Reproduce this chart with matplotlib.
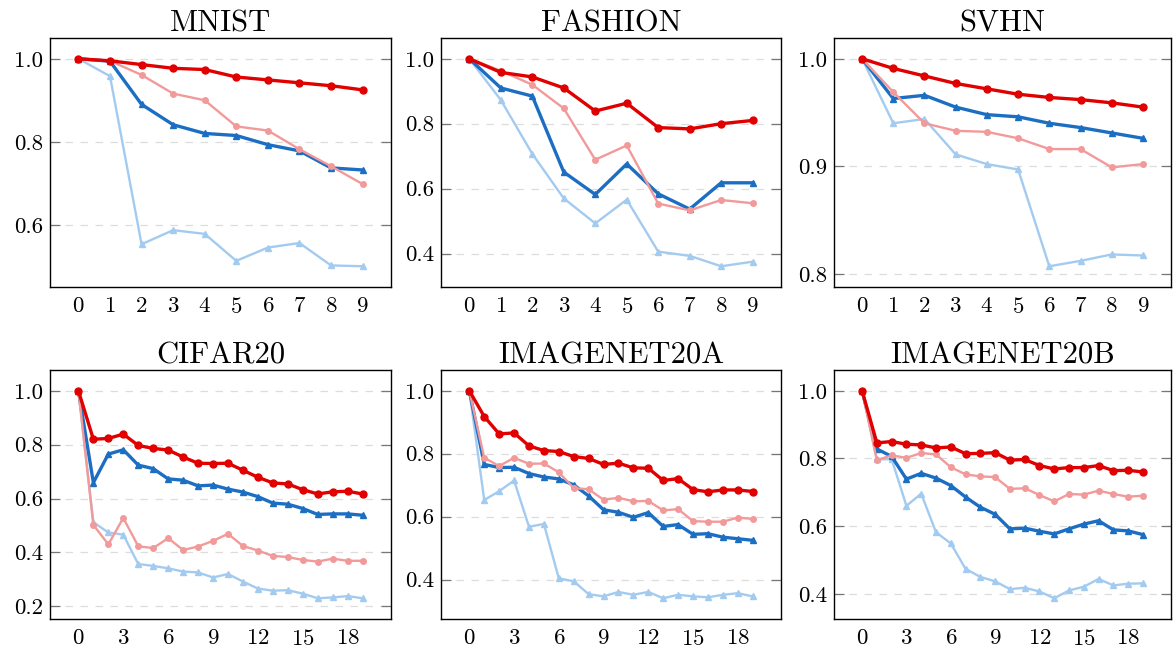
import numpy as np
import matplotlib
matplotlib.use('Agg')
import matplotlib.pyplot as plt
from matplotlib.ticker import FormatStrFormatter

plt.rcParams['font.family'] = ['cmr10', 'DejaVu Serif']
plt.rcParams['mathtext.fontset'] = 'cm'
plt.rcParams['axes.formatter.use_mathtext'] = True

titles = ['MNIST', 'FASHION', 'SVHN', 'CIFAR20', 'IMAGENET20A', 'IMAGENET20B']

# dark red (circles), light red (circles), dark blue (triangles), light blue (triangles)
mnist_dr = [1.0, 0.995, 0.986, 0.977, 0.974, 0.956, 0.949, 0.942, 0.935, 0.925]
mnist_lr = [1.0, 0.995, 0.961, 0.916, 0.900, 0.837, 0.827, 0.782, 0.741, 0.698]
mnist_db = [1.0, 0.994, 0.890, 0.841, 0.820, 0.815, 0.793, 0.778, 0.737, 0.732]
mnist_lb = [1.0, 0.958, 0.553, 0.587, 0.578, 0.513, 0.545, 0.556, 0.502, 0.500]

fashion_dr = [1.0, 0.958, 0.944, 0.910, 0.839, 0.863, 0.788, 0.784, 0.800, 0.810]
fashion_lr = [1.0, 0.963, 0.920, 0.847, 0.689, 0.733, 0.554, 0.533, 0.565, 0.555]
fashion_db = [1.0, 0.910, 0.885, 0.651, 0.582, 0.676, 0.584, 0.537, 0.618, 0.618]
fashion_lb = [1.0, 0.873, 0.707, 0.570, 0.493, 0.566, 0.406, 0.393, 0.361, 0.375]

svhn_dr = [1.0, 0.991, 0.984, 0.977, 0.972, 0.967, 0.964, 0.962, 0.959, 0.955]
svhn_lr = [1.0, 0.969, 0.940, 0.933, 0.932, 0.926, 0.916, 0.916, 0.899, 0.902]
svhn_db = [1.0, 0.963, 0.966, 0.955, 0.948, 0.946, 0.940, 0.936, 0.931, 0.926]
svhn_lb = [1.0, 0.940, 0.944, 0.911, 0.902, 0.897, 0.807, 0.812, 0.818, 0.817]

cifar_dr = [1.0, 0.820, 0.823, 0.839, 0.797, 0.786, 0.780, 0.754, 0.731, 0.730,
            0.731, 0.705, 0.679, 0.658, 0.654, 0.633, 0.617, 0.625, 0.627, 0.617]
cifar_lr = [1.0, 0.502, 0.430, 0.528, 0.423, 0.416, 0.453, 0.409, 0.422, 0.443,
            0.469, 0.424, 0.407, 0.387, 0.383, 0.372, 0.366, 0.377, 0.369, 0.369]
cifar_db = [1.0, 0.659, 0.765, 0.781, 0.724, 0.711, 0.673, 0.668, 0.647, 0.650,
            0.635, 0.624, 0.607, 0.583, 0.579, 0.563, 0.541, 0.543, 0.543, 0.538]
cifar_lb = [1.0, 0.512, 0.474, 0.466, 0.357, 0.350, 0.341, 0.329, 0.326, 0.307,
            0.320, 0.292, 0.266, 0.258, 0.260, 0.247, 0.230, 0.233, 0.238, 0.230]

inA_dr = [1.0, 0.918, 0.863, 0.866, 0.825, 0.810, 0.807, 0.791, 0.785, 0.766,
          0.770, 0.755, 0.754, 0.715, 0.721, 0.686, 0.679, 0.685, 0.685, 0.680]
inA_lr = [1.0, 0.787, 0.761, 0.787, 0.768, 0.769, 0.741, 0.691, 0.687, 0.654,
          0.660, 0.649, 0.650, 0.620, 0.624, 0.586, 0.584, 0.584, 0.597, 0.593]
inA_db = [1.0, 0.766, 0.756, 0.757, 0.737, 0.726, 0.720, 0.701, 0.666, 0.622,
          0.614, 0.598, 0.613, 0.569, 0.575, 0.544, 0.546, 0.535, 0.530, 0.525]
inA_lb = [1.0, 0.653, 0.681, 0.715, 0.568, 0.577, 0.404, 0.395, 0.354, 0.347,
          0.361, 0.352, 0.361, 0.341, 0.352, 0.347, 0.344, 0.352, 0.357, 0.347]

inB_dr = [1.0, 0.846, 0.850, 0.842, 0.840, 0.831, 0.834, 0.814, 0.815, 0.817,
          0.795, 0.797, 0.779, 0.769, 0.773, 0.773, 0.779, 0.764, 0.765, 0.760]
inB_lr = [1.0, 0.795, 0.809, 0.802, 0.816, 0.812, 0.774, 0.753, 0.747, 0.745,
          0.710, 0.712, 0.692, 0.673, 0.695, 0.693, 0.705, 0.695, 0.687, 0.690]
inB_db = [1.0, 0.828, 0.806, 0.739, 0.756, 0.742, 0.720, 0.686, 0.656, 0.635,
          0.592, 0.594, 0.585, 0.577, 0.592, 0.606, 0.616, 0.589, 0.586, 0.575]
inB_lb = [1.0, 0.797, 0.798, 0.660, 0.696, 0.582, 0.549, 0.474, 0.450, 0.437,
          0.414, 0.418, 0.407, 0.387, 0.410, 0.421, 0.444, 0.425, 0.430, 0.431]

series = [
    (mnist_dr, mnist_lr, mnist_db, mnist_lb),
    (fashion_dr, fashion_lr, fashion_db, fashion_lb),
    (svhn_dr, svhn_lr, svhn_db, svhn_lb),
    (cifar_dr, cifar_lr, cifar_db, cifar_lb),
    (inA_dr, inA_lr, inA_db, inA_lb),
    (inB_dr, inB_lr, inB_db, inB_lb),
]

yticks = [
    [0.6, 0.8, 1.0],
    [0.4, 0.6, 0.8, 1.0],
    [0.8, 0.9, 1.0],
    [0.2, 0.4, 0.6, 0.8, 1.0],
    [0.4, 0.6, 0.8, 1.0],
    [0.4, 0.6, 0.8, 1.0],
]
xticks_top = list(range(10))
xticks_bottom = list(range(0, 19, 3))

DARK_RED = '#e00000'
LIGHT_RED = '#f29a9a'
DARK_BLUE = '#1b6ec2'
LIGHT_BLUE = '#a3cbf0'

W, H = 1176, 648
fig = plt.figure(figsize=(W / 100, H / 100), dpi=100)

# axes boxes in pixels: left, top, right, bottom
boxes = [
    (50, 38, 391, 287), (441, 38, 781, 287), (834, 38, 1171, 287),
    (50, 370, 391, 619), (441, 370, 781, 619), (834, 370, 1171, 619),
]

for i, (title, (dr, lr, db, lb)) in enumerate(zip(titles, series)):
    l, t, r, b = boxes[i]
    ax = fig.add_axes([l / W, 1 - b / H, (r - l) / W, (b - t) / H])
    x = np.arange(len(dr))

    ax.plot(x, lb, color=LIGHT_BLUE, lw=1.7, marker='^', ms=4.5, zorder=2)
    ax.plot(x, db, color=DARK_BLUE, lw=2.4, marker='^', ms=5, zorder=3)
    ax.plot(x, lr, color=LIGHT_RED, lw=1.7, marker='o', ms=4, zorder=4)
    ax.plot(x, dr, color=DARK_RED, lw=2.4, marker='o', ms=5, zorder=5)

    ax.margins(x=0.1, y=0.1)
    ax.set_yticks(yticks[i])
    ax.yaxis.set_major_formatter(FormatStrFormatter('%.1f'))
    ax.set_xticks(xticks_top if i < 3 else xticks_bottom)
    ax.yaxis.grid(True, linestyle=(0, (6, 6)), color='#dddddd', lw=0.9)
    ax.set_axisbelow(True)
    ax.tick_params(axis='y', direction='in', left=True, right=True, length=7,
                   width=0.9, color='#777777', labelsize=16.5, pad=5)
    ax.tick_params(axis='x', length=0, labelsize=16.5, pad=7)
    for s in ax.spines.values():
        s.set_linewidth(1.0)
    ax.set_title(title, fontsize=22, pad=5)

fig.savefig('out.png', dpi=100)
